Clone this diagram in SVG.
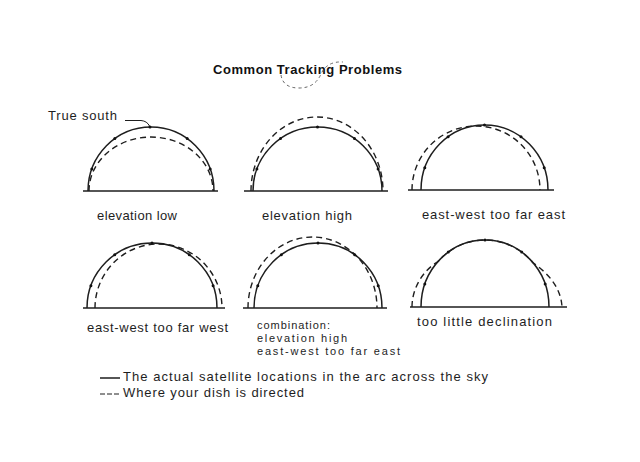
<svg xmlns="http://www.w3.org/2000/svg" width="640" height="462" viewBox="0 0 640 462">
<style>
  .bg { fill: #ffffff; }
  .t { font-family: "Liberation Sans", Arial, sans-serif; font-size: 13px; fill: #1e1e1e; }
  .ts { font-family: "Liberation Sans", Arial, sans-serif; font-size: 11px; fill: #1e1e1e; }
  .title { font-family: "Liberation Sans", Arial, sans-serif; font-size: 13px; font-weight: bold; fill: #111; }
  .base { stroke: #1e1e1e; stroke-width: 1.6; fill: none; }
  .solid { stroke: #1e1e1e; stroke-width: 1.5; fill: none; }
  .dash { stroke: #1e1e1e; stroke-width: 1.4; fill: none; stroke-dasharray: 6 4; }
  .dot { fill: #111; }
  .lead { stroke: #1e1e1e; stroke-width: 1; fill: none; }
  .scribble { stroke: #555; stroke-width: 0.9; fill: none; stroke-dasharray: 3 3; }
</style>
<defs>
  <circle id="d" r="1.5" class="dot"/>
</defs>
<rect class="bg" x="0" y="0" width="640" height="462"/>

<g id="title">
  <text class="title" x="213" y="74" textLength="189" lengthAdjust="spacing">Common Tracking Problems</text>
  <path class="scribble" d="M281,75 Q283,88 299,88 Q315,88 321,74 Q327,61 343,62"/>
</g>

<g id="panel-elevation-low">
  <line class="base" x1="83" y1="191" x2="218" y2="191"/>
  <path class="solid" d="M88,191 A63,64 0 0 1 214,191"/>
  <path class="dash" d="M89,191 A62,54 0 0 1 213,191"/>
  <use href="#d" x="91.8" y="169.1"/><use href="#d" x="114.8" y="138.6"/><use href="#d" x="150" y="127"/><use href="#d" x="187.2" y="138.6"/><use href="#d" x="210.2" y="169.1"/>
  <text class="t" x="48" y="120" textLength="69" lengthAdjust="spacing">True south</text>
  <text class="t" x="97" y="220" textLength="80" lengthAdjust="spacing">elevation low</text>
</g>

<g id="panel-elevation-high">
  <line class="base" x1="244" y1="191" x2="388" y2="191"/>
  <path class="solid" d="M253,191 A64.5,64 0 0 1 382,191"/>
  <path class="dash" d="M251,191 A66,74 0 0 1 383,191"/>
  <use href="#d" x="256.9" y="169.1"/><use href="#d" x="280.5" y="138.6"/><use href="#d" x="317.5" y="127"/><use href="#d" x="354.5" y="138.6"/><use href="#d" x="378.1" y="169.1"/>
  <text class="t" x="262" y="220" textLength="90" lengthAdjust="spacing">elevation high</text>
</g>

<g id="panel-too-far-east">
  <line class="base" x1="408" y1="190" x2="554" y2="190"/>
  <path class="solid" d="M421,190 A63.5,65 0 0 1 548,190"/>
  <path class="dash" d="M412,190 A64,64 0 0 1 540,190"/>
  <use href="#d" x="424.8" y="167.8"/><use href="#d" x="448.1" y="136.8"/><use href="#d" x="484.5" y="125"/><use href="#d" x="521" y="136.8"/><use href="#d" x="544.2" y="167.8"/>
  <text class="t" x="422" y="219" textLength="143" lengthAdjust="spacing">east-west too far east</text>
</g>

<g id="panel-too-far-west">
  <line class="base" x1="83" y1="308" x2="225" y2="308"/>
  <path class="solid" d="M87,308 A65,65 0 0 1 217,308"/>
  <path class="dash" d="M95,308 A63.5,64 0 0 1 222,308"/>
  <use href="#d" x="90.9" y="285.8"/><use href="#d" x="114.7" y="254.8"/><use href="#d" x="152" y="243"/><use href="#d" x="189.3" y="254.8"/><use href="#d" x="213.1" y="285.8"/>
  <text class="t" x="87" y="332" textLength="141" lengthAdjust="spacing">east-west too far west</text>
</g>

<g id="panel-combination">
  <line class="base" x1="243" y1="308" x2="387" y2="308"/>
  <path class="solid" d="M254,308 A64,65 0 0 1 382,308"/>
  <path class="dash" d="M248,308 A64.5,71 0 0 1 377,308"/>
  <use href="#d" x="257.8" y="285.8"/><use href="#d" x="281.3" y="254.8"/><use href="#d" x="318" y="243"/><use href="#d" x="354.7" y="254.8"/><use href="#d" x="378.2" y="285.8"/>
  <text class="ts" x="257" y="329" textLength="73" lengthAdjust="spacing">combination:</text>
  <text class="ts" x="257" y="342" textLength="90" lengthAdjust="spacing">elevation high</text>
  <text class="ts" x="257" y="355" textLength="143" lengthAdjust="spacing">east-west too far east</text>
</g>

<g id="panel-too-little-declination">
  <line class="base" x1="410" y1="307" x2="567" y2="307"/>
  <path class="solid" d="M421,307 A64,67 0 0 1 549,307"/>
  <path class="dash" d="M412,307 C412,290 421,272 438,261.5 A64,67 0 0 1 533,262.7 C549,274 561,288 562,307"/>
  <use href="#d" x="424.8" y="284.1"/><use href="#d" x="448.3" y="252.1"/><use href="#d" x="485" y="240"/><use href="#d" x="521.7" y="252.1"/><use href="#d" x="545.2" y="284.1"/>
  <text class="t" x="417" y="326" textLength="135" lengthAdjust="spacing">too little declination</text>
</g>

<g id="legend">
  <line class="solid" x1="100" y1="378" x2="120" y2="378"/>
  <text class="t" x="123" y="381" textLength="365" lengthAdjust="spacing">The actual satellite locations in the arc across the sky</text>
  <line class="lead" x1="100" y1="394" x2="119" y2="394" stroke-width="1.4" stroke-dasharray="5 2"/>
  <text class="t" x="123" y="397" textLength="181" lengthAdjust="spacing">Where your dish is directed</text>
</g>

<g id="connectors">
  <path class="lead" d="M125,120.5 L141,120.5 Q147,121 149.5,126"/>
</g>
</svg>
